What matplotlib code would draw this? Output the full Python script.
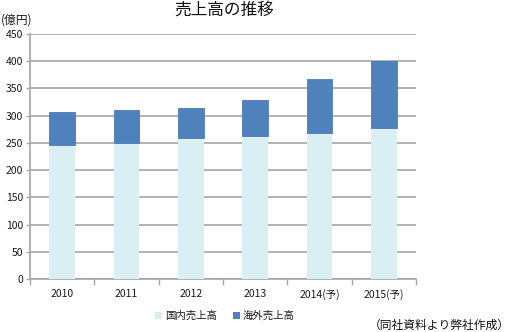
import matplotlib
matplotlib.use("Agg")
import matplotlib.pyplot as plt
from matplotlib.patches import Patch
import numpy as np

plt.rcParams['font.family'] = ['Noto Sans CJK JP', 'DejaVu Sans']

categories = ["2010", "2011", "2012", "2013", "2014(予)", "2015(予)"]
domestic = [247, 249, 259, 263, 269, 278]
total = [307, 310, 315, 328, 368, 400]
overseas = [t - d for t, d in zip(total, domestic)]
yticks = [0, 50, 100, 150, 200, 250, 300, 350, 400, 450]

c_dom = "#DBEEF4"
c_ovs = "#4F81BD"
grid_c = "#A6A6A6"
text_c = "#1A1A1A"

fig = plt.figure(figsize=(5.14, 3.32), dpi=100)
ax = fig.add_axes([30 / 514, 1 - 279 / 332, 386 / 514, 245 / 332])

x = np.arange(len(categories))
ax.bar(x, domestic, width=0.4, color=c_dom, zorder=3)
ax.bar(x, overseas, width=0.4, bottom=domestic, color=c_ovs,
       edgecolor="#4A7AB5", linewidth=0.6, zorder=3)

ax.set_xlim(-0.5, len(categories) - 0.5)
ax.set_ylim(0, 450)
ax.set_yticks(yticks)
ax.yaxis.grid(True, color=grid_c, linewidth=1.2, zorder=0)
ax.set_axisbelow(True)

for s in ["top", "right"]:
    ax.spines[s].set_visible(False)
ax.spines["left"].set_color(grid_c)
ax.spines["bottom"].set_color(grid_c)
ax.spines["left"].set_linewidth(1.2)
ax.spines["bottom"].set_linewidth(1.2)

# category labels between boundary tick marks
ax.set_xticks(np.arange(-0.5, len(categories), 1.0))
ax.set_xticklabels([])
ax.set_xticks(x, minor=True)
ax.set_xticklabels(categories, minor=True, fontsize=7.5, color=text_c)
ax.tick_params(axis="x", which="major", length=4, color=grid_c, width=1)
ax.tick_params(axis="x", which="minor", length=0, pad=7)
ax.tick_params(axis="y", length=3, color=grid_c, width=1, labelsize=7.5,
               labelcolor=text_c, pad=2)

fig.text(224 / 514, 1 - 10 / 332, "売上高の推移", ha="center", va="center",
         fontsize=12, color="#111111")
fig.text(1 / 514, 1 - 20 / 332, "(億円)", ha="left", va="center",
         fontsize=8.5, color=text_c)

handles = [Patch(facecolor=c_dom, label="国内売上高"),
           Patch(facecolor=c_ovs, label="海外売上高")]
fig.legend(handles=handles, loc="center left", bbox_to_anchor=(146 / 514, 1 - 316 / 332),
           ncol=2, frameon=False, fontsize=7.5, handlelength=0.6, handleheight=0.6,
           handletextpad=0.3, columnspacing=1.6, labelcolor=text_c)

fig.text(510 / 514, 1 - 325 / 332, "（同社資料より弊社作成）", ha="right", va="center",
         fontsize=8.5, color="#111111")

fig.savefig("out.png", dpi=100)
